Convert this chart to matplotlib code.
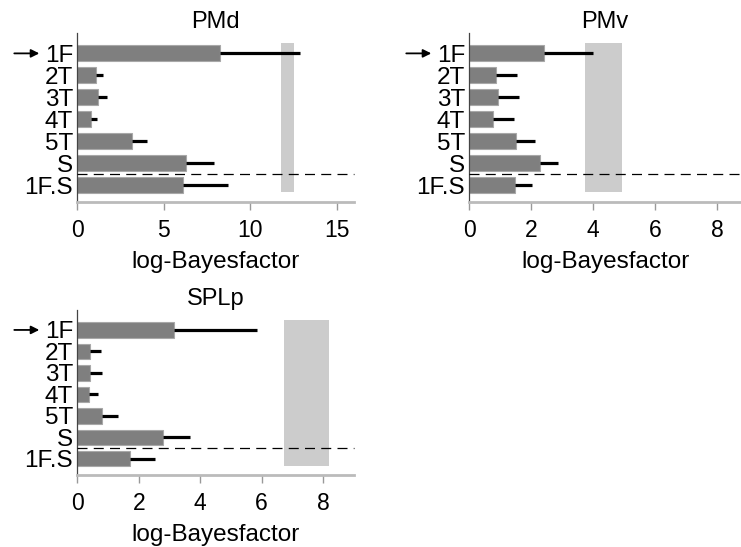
import numpy as np
import matplotlib
matplotlib.use('Agg')
import matplotlib.pyplot as plt

plt.rcParams['font.family'] = ['Liberation Sans', 'DejaVu Sans']

# models, top to bottom
models = ['1F', '2T', '3T', '4T', '5T', 'S', '1F.S']

# mean log-Bayesfactor and upper end of the error line
pmd_mean = [8.27, 1.06, 1.21, 0.77, 3.17, 6.31, 6.14]
pmd_upper = [12.9, 1.5, 1.73, 1.15, 4.04, 7.9, 8.71]
pmv_mean = [2.41, 0.87, 0.93, 0.77, 1.51, 2.28, 1.48]
pmv_upper = [4.0, 1.53, 1.6, 1.44, 2.11, 2.87, 2.03]
splp_mean = [3.14, 0.42, 0.42, 0.37, 0.82, 2.78, 1.72]
splp_upper = [5.86, 0.78, 0.82, 0.69, 1.33, 3.68, 2.53]

# shaded band (noise ceiling) per region
pmd_band = [11.77, 12.52]
pmv_band = [3.75, 4.93]
splp_band = [6.72, 8.2]

pmd_ticks = [0, 5, 10, 15]
pmv_ticks = [0, 2, 4, 6, 8]
splp_ticks = [0, 2, 4, 6, 8]


def draw_panel(fig, rect, title, mean, upper, band, ticks, xmax):
    ax = fig.add_axes(rect)
    y = np.arange(len(models))
    ax.barh(y, mean, height=0.72, color='#7f7f7f', edgecolor='#a8a8a8',
            linewidth=0.8, zorder=2)
    for yi, m, u in zip(y, mean, upper):
        ax.plot([m, u], [yi, yi], color='black', lw=2.3, solid_capstyle='butt', zorder=3)
    ax.fill_betweenx([-0.46, 6.34], band[0], band[1], color='black', alpha=0.2,
                     linewidth=0, zorder=4)
    ax.axhline(5.5, color='black', lw=0.9, dashes=(8, 5), zorder=5, clip_on=False)

    ax.set_xlim(0, xmax)
    ax.set_ylim(6.76, -0.93)
    ax.set_yticks(y)
    ax.set_yticklabels(models)
    ax.set_xticks(ticks)
    ax.tick_params(axis='y', length=0, pad=3, labelsize=17.5)
    ax.tick_params(axis='x', length=5.5, width=1, color='#999999', pad=7, labelsize=16.5)
    for s in ['top', 'right']:
        ax.spines[s].set_visible(False)
    ax.spines['left'].set_color('#444444')
    ax.spines['left'].set_linewidth(0.9)
    ax.spines['bottom'].set_color('#bbbbbb')
    ax.spines['bottom'].set_linewidth(2)
    ax.set_xlabel('log-Bayesfactor', fontsize=17.5, labelpad=6.5)
    ax.set_title(title, fontsize=17, pad=2)

    # arrow pointing at the 1F model
    w_px = rect[2] * fig.get_figwidth() * fig.dpi
    ax.annotate('', xy=(-38 / w_px, 0), xytext=(-63 / w_px, 0),
                xycoords=('axes fraction', 'data'), textcoords=('axes fraction', 'data'),
                arrowprops=dict(arrowstyle='-|>', color='black', lw=1.3,
                                mutation_scale=12, shrinkA=0, shrinkB=0),
                annotation_clip=False)
    return ax


fig = plt.figure(figsize=(7.41, 5.47), dpi=100)
draw_panel(fig, [0.1043, 0.6313, 0.3734, 0.3084], 'PMd', pmd_mean, pmd_upper,
           pmd_band, pmd_ticks, 16.0)
draw_panel(fig, [0.6333, 0.6313, 0.3667, 0.3084], 'PMv', pmv_mean, pmv_upper,
           pmv_band, pmv_ticks, 8.77)
draw_panel(fig, [0.1043, 0.1316, 0.3734, 0.3017], 'SPLp', splp_mean, splp_upper,
           splp_band, splp_ticks, 9.0)

fig.savefig('out.png', dpi=100)
